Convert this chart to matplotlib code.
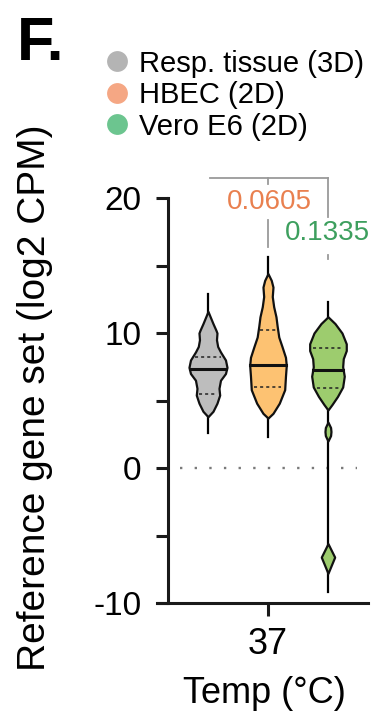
import numpy as np
import matplotlib.pyplot as plt
from matplotlib.lines import Line2D

plt.rcParams['font.family'] = ['Liberation Sans', 'DejaVu Sans']
plt.rcParams['axes.unicode_minus'] = False

# groups, colours
groups = ['Resp. tissue (3D)', 'HBEC (2D)', 'Vero E6 (2D)']
fill_colors = ['#bdbdbd', '#fdc272', '#9dcc6e']
dot_colors = ['#b4b4b4', '#f5a784', '#6cc58f']
positions = [0, 1, 2]

# violin outlines: levels (log2 CPM) and half widths (px)
gray_y = [11.6, 10.7, 10.2, 10.0, 9.5, 9.0, 8.6, 8.0, 7.46, 7.0, 6.5, 5.9, 5.4, 4.8, 4.2, 3.8]
gray_w = [0, 5, 8, 9, 8.5, 9.7, 12.5, 17.5, 19, 17.5, 12.5, 11, 11.7, 9, 5, 0]
orange_y = [14.4, 13.9, 13.4, 12.7, 11.95, 11.2, 10.5, 9.7, 9.0, 8.2, 7.6, 6.8, 5.8, 4.8, 4.05, 3.7]
orange_w = [0, 3.3, 5, 4.3, 5.7, 8, 9.2, 10.8, 14, 17.5, 18.3, 17.5, 16.7, 11.3, 5, 0]
green_y = [11.2, 10.7, 10.0, 9.2, 8.7, 8.1, 7.5, 6.8, 6.0, 5.3, 4.7, 4.3]
green_w = [0, 7, 14, 18.3, 18.3, 15.3, 14.7, 16.3, 14.7, 9.5, 4, 0]
green_small_y = [3.4, 3.0, 2.7, 2.4, 2.0]
green_small_w = [0, 2.6, 3.0, 2.6, 0]
green_low_y = [-5.6, -6.6, -7.8]
green_low_w = [0, 6.7, 0]

outlines = [
    [(gray_y, gray_w)],
    [(orange_y, orange_w)],
    [(green_y, green_w), (green_small_y, green_small_w), (green_low_y, green_low_w)],
]
data_min = [2.6, 2.3, -9.2]
data_max = [12.9, 15.65, 12.3]
medians = [7.3, 7.63, 7.26]
q1 = [5.5, 6.0, 5.9]
q3 = [8.2, 10.2, 8.9]

p_values = ['0.0605', '0.1335']
p_colors = ['#e9804f', '#3d9f5e']

px_per_unit = 60.0

fig = plt.figure(figsize=(3.77, 7.2), dpi=100)
ax = fig.add_axes([0.4164, 0.1625, 0.5597, 0.6])

for pos, parts, col, lo, hi, med, a, b in zip(positions, outlines, fill_colors,
                                             data_min, data_max, medians, q1, q3):
    ax.plot([pos, pos], [lo, hi], color='black', lw=1.6, zorder=2)
    for ys, ws in parts:
        ys = np.array(ys)
        ws = np.array(ws) / px_per_unit
        ax.fill_betweenx(ys, pos - ws, pos + ws, facecolor=col,
                         edgecolor='#111111', lw=1.6, zorder=3)
    main_y = np.array(parts[0][0])[::-1]
    main_w = np.array(parts[0][1])[::-1] / px_per_unit
    w = np.interp(med, main_y, main_w)
    ax.plot([pos - w, pos + w], [med, med], color='#111111', lw=2.2, zorder=4)
    for q in (a, b):
        w = np.interp(q, main_y, main_w) * 0.8
        ax.plot([pos - w, pos + w], [q, q], color='#222222', lw=1.1,
                dashes=(2, 2), zorder=4)

# zero line
ax.plot([-0.47, 2.48], [0, 0], color='#7a7a7a', lw=1.7, dashes=(1, 5.2), zorder=1)

# comparison bracket
br = 21.5
gc = '#9a9a9a'
ax.plot([0.03, 2], [br, br], color=gc, lw=1.3, clip_on=False)
ax.plot([1, 1], [br, br - 0.45], color=gc, lw=1.3, clip_on=False)
ax.plot([2, 2], [br, 18.6], color=gc, lw=1.3, clip_on=False)
ax.plot([1, 1], [18.4, 16.4], color=gc, lw=1.3, clip_on=False)
ax.plot([2, 2], [15.75, 15.45], color=gc, lw=1.3, clip_on=False)
ax.text(1.02, 19.7, p_values[0], color=p_colors[0], fontsize=20,
        ha='center', va='center', clip_on=False)
ax.text(1.28, 17.4, p_values[1], color=p_colors[1], fontsize=20,
        ha='left', va='center', clip_on=False)

ax.set_xlim(-0.85, 2.667)
ax.set_ylim(-10, 22)
ax.spines['top'].set_visible(False)
ax.spines['right'].set_visible(False)
ax.spines['left'].set_position(('data', -0.667))
ax.spines['left'].set_bounds(-10, 20)
for s in ('left', 'bottom'):
    ax.spines[s].set_linewidth(2.2)
    ax.spines[s].set_color('#1a1a1a')

ax.set_yticks([-10, 0, 10, 20])
ax.set_yticks([-5, 5, 15], minor=True)
ax.set_xticks([1])
ax.set_xticklabels(['37'])
ax.tick_params(axis='both', which='both', width=2.2, color='#1a1a1a', length=9)
ax.tick_params(axis='y', labelsize=24, pad=10)
ax.tick_params(axis='x', labelsize=26, pad=8)

ax.set_ylabel('Reference gene set (log2 CPM)', fontsize=28)
ax.yaxis.set_label_coords(-0.495, 0.475)
ax.set_xlabel('Temp (°C)', fontsize=26)
ax.xaxis.set_label_coords(0.51, -0.17)

handles = [Line2D([], [], ls='none', marker='o', ms=15, color=c, mec='none')
           for c in dot_colors]
ax.legend(handles, groups, loc='upper left', bbox_to_anchor=(0.272, 0.931),
          bbox_transform=fig.transFigure, frameon=False, fontsize=21,
          handlelength=1.0, handletextpad=0.25, labelspacing=0.12,
          borderpad=0, borderaxespad=0)

fig.text(0.045, 0.978, 'F.', fontsize=44, fontweight='bold', va='top', ha='left')

fig.savefig('out.png', dpi=100)
